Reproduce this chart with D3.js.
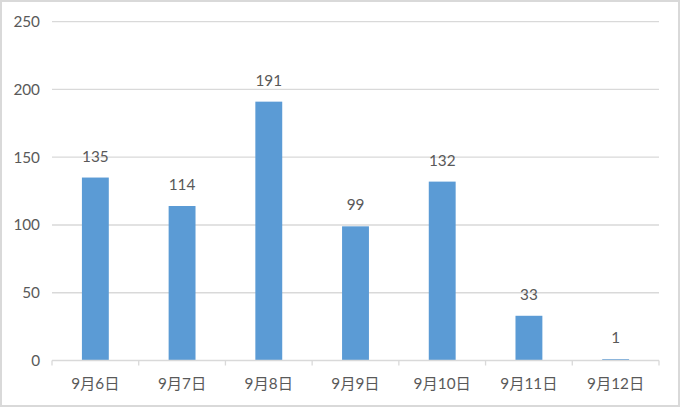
<!DOCTYPE html>
<html><head><meta charset="utf-8">
<script src="https://cdn.jsdelivr.net/npm/d3@7"></script>
<style>
html,body{margin:0;padding:0;background:#fff;}
svg{display:block;}
</style></head>
<body>
<svg id="chart" width="680" height="408"></svg>
<script>
const categories = ["9月6日","9月7日","9月8日","9月9日","9月10日","9月11日","9月12日"];
const values = [135,114,191,99,132,33,1];
const yTicks = [0,50,100,150,200,250];

const W = 680, H = 408;
const margin = {left:52, right:21, top:21.7, bottom:47.5};
const svg = d3.select("#chart");
const font = "Lato, 'Noto Sans CJK SC', sans-serif";
const textColor = "#595959";
const fs = "15.3px";

svg.append("rect").attr("x",1).attr("y",1).attr("width",W-2).attr("height",H-3)
  .attr("fill","#fff").attr("stroke","#d9d9d9").attr("stroke-width",2);

const x = d3.scaleBand().domain(categories).range([margin.left, W-margin.right]).paddingInner(0.69).paddingOuter(0.345);
const y = d3.scaleLinear().domain([0,250]).range([H-margin.bottom, margin.top]);

// gridlines
svg.append("g").selectAll("line").data(yTicks.filter(d=>d>0)).join("line")
  .attr("x1",margin.left).attr("x2",W-margin.right)
  .attr("y1",d=>y(d)).attr("y2",d=>y(d))
  .attr("stroke","#d9d9d9").attr("stroke-width",1.3);

// y axis labels
const yAxis = d3.axisLeft(y).tickValues(yTicks).tickSize(0).tickPadding(12);
const gy = svg.append("g").attr("transform",`translate(${margin.left},0)`).call(yAxis);
gy.select(".domain").remove();
gy.selectAll("text").attr("fill",textColor).style("font-family",font).style("font-size",fs);

// bars
svg.append("g").selectAll("rect").data(values).join("rect")
  .attr("x",(d,i)=>x(categories[i])).attr("width",x.bandwidth())
  .attr("y",d=>y(d)).attr("height",d=>y(0)-y(d))
  .attr("fill","#5b9bd5");

// x axis
const xAxisG = svg.append("g").attr("transform",`translate(0,${y(0)})`);
xAxisG.append("line").attr("x1",margin.left).attr("x2",W-margin.right)
  .attr("stroke","#d9d9d9").attr("stroke-width",1.3);
const boundaries = d3.range(categories.length+1).map(i=>margin.left + i*(W-margin.left-margin.right)/categories.length);
xAxisG.selectAll("line.tick").data(boundaries).join("line").attr("class","tick")
  .attr("x1",d=>d).attr("x2",d=>d).attr("y1",0).attr("y2",5)
  .attr("stroke","#d9d9d9").attr("stroke-width",1.3);
xAxisG.selectAll("text").data(categories).join("text")
  .attr("x",d=>x(d)+x.bandwidth()/2).attr("y",28)
  .attr("text-anchor","middle").attr("fill",textColor)
  .style("font-family",font).style("font-size",fs).text(d=>d);

// value labels
svg.append("g").selectAll("text").data(values).join("text")
  .attr("x",(d,i)=>x(categories[i])+x.bandwidth()/2).attr("y",d=>y(d)-16)
  .attr("text-anchor","middle").attr("fill",textColor)
  .style("font-family",font).style("font-size",fs).text(d=>d);
</script>
</body></html>
